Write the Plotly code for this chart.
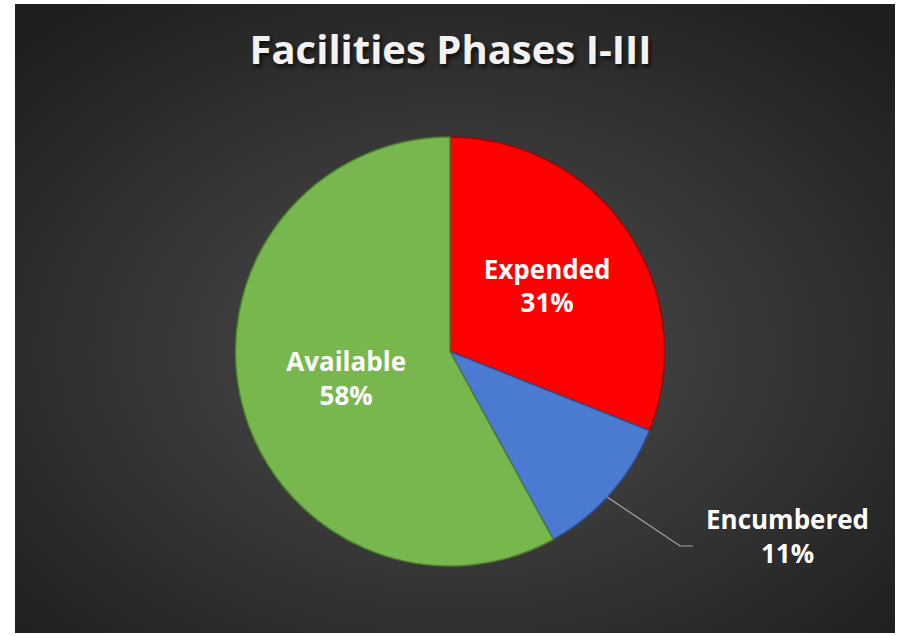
import base64
import plotly.graph_objects as go

# data
labels = ["Expended", "Encumbered", "Available"]
shares = [31, 11, 58]
colors = ["#ff0000", "#4a7bd0", "#78b74e"]
edge_colors = ["#a80000", "#2b4f8f", "#4d7f2e"]

W, H = 901, 636

# dark radial background as an inline svg
svg = """<svg xmlns='http://www.w3.org/2000/svg' width='880' height='629'>
<defs><radialGradient id='g' cx='50%' cy='55%' r='70%'>
<stop offset='0' stop-color='#4e4e4e'/><stop offset='1' stop-color='#1e1e1e'/>
</radialGradient></defs>
<rect width='880' height='629' fill='url(#g)'/></svg>"""
bg_src = "data:image/svg+xml;base64," + base64.b64encode(svg.encode()).decode()

fig = go.Figure()

fig.add_trace(go.Pie(
    labels=labels,
    values=shares,
    sort=False,
    direction="clockwise",
    rotation=0,
    marker=dict(colors=colors, line=dict(color=edge_colors, width=1.5)),
    texttemplate="%{label}<br>%{percent:.0%}",
    textposition=["inside", "none", "inside"],
    insidetextorientation="horizontal",
    textfont=dict(family="Open Sans", size=26, color="white", weight="bold"),
    domain=dict(x=[235 / W, 665 / W], y=[1 - 566 / H, 1 - 137 / H]),
    showlegend=False,
    hoverinfo="label+percent",
))

# outside label for the small slice with its leader line
fig.add_annotation(
    text=f"{labels[1]}<br>{shares[1]}%",
    x=787 / W, y=1 - 536 / H, xref="paper", yref="paper",
    xanchor="center", yanchor="middle",
    showarrow=False, align="center",
    font=dict(family="Open Sans", size=26, color="white", weight="bold"),
)
fig.add_shape(
    type="path",
    path=f"M {607 / W} {1 - 497 / H} L {680 / W} {1 - 546 / H} L {693 / W} {1 - 546 / H}",
    xref="paper", yref="paper",
    line=dict(color="#a6a6a6", width=1.2),
)

fig.update_layout(
    width=W, height=H,
    margin=dict(l=0, r=0, t=0, b=0),
    paper_bgcolor="white",
    plot_bgcolor="white",
    images=[dict(
        source=bg_src, xref="paper", yref="paper",
        x=15 / W, y=1 - 4 / H, sizex=880 / W, sizey=629 / H,
        xanchor="left", yanchor="top", sizing="stretch", layer="below",
    )],
    title=dict(
        text="Facilities Phases I-III",
        x=0.5, xanchor="center", y=1 - 50 / H, yanchor="middle",
        font=dict(family="Open Sans", size=40, color="#f2f2f2", weight="bold",
                  shadow="2px 3px 4px rgba(0,0,0,0.7)"),
    ),
)

fig.write_html("out.html", config={"displayModeBar": False},
               post_script="document.body.style.margin='0';")
